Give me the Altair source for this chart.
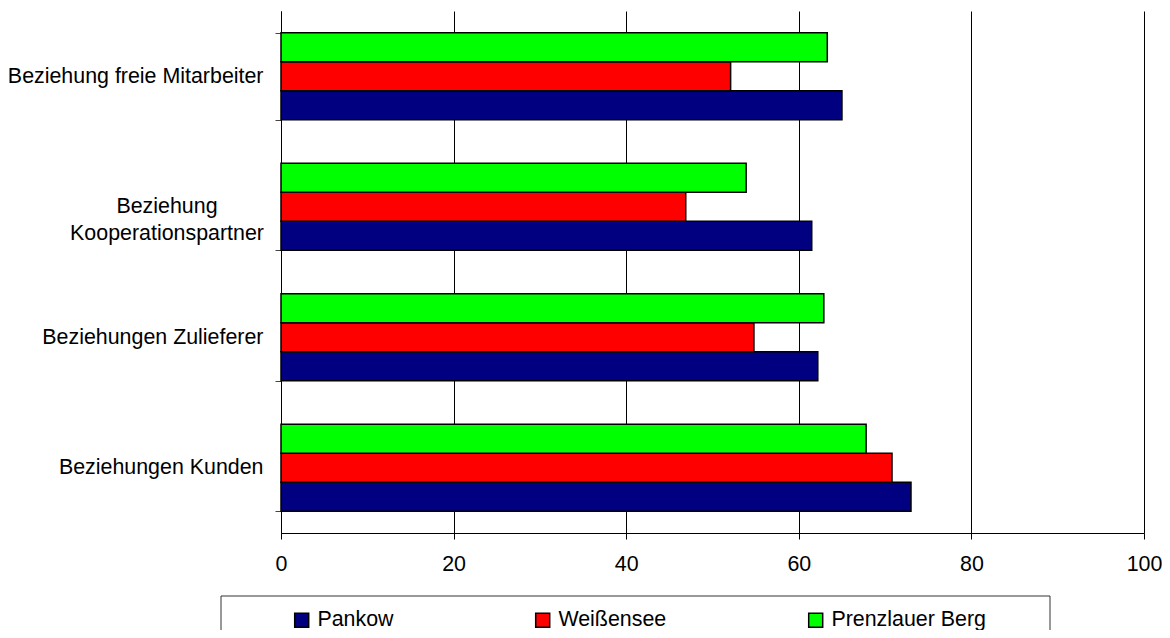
import altair as alt
import pandas as pd

categories = [
    "Beziehung freie Mitarbeiter",
    "Beziehung Kooperationspartner",
    "Beziehungen Zulieferer",
    "Beziehungen Kunden",
]
two_line_category = "Beziehung Kooperationspartner"
two_line_text = "Beziehung\nKooperationspartner"
series = ["Pankow", "Weißensee", "Prenzlauer Berg"]
pankow = [65.0, 61.5, 62.2, 73.0]
weissensee = [52.1, 46.9, 54.8, 70.8]
prenzlauer = [63.3, 53.9, 62.9, 67.8]
colors = ["#000080", "#FF0000", "#00FF00"]
x_ticks = [0, 20, 40, 60, 80, 100]

rows = []
for s, vals in zip(series, [pankow, weissensee, prenzlauer]):
    for c, v in zip(categories, vals):
        rows.append({"Kategorie": c, "Bezirk": s, "Wert": v})
df = pd.DataFrame(rows)

FONT = "Liberation Sans"
FS = 21.4
label_expr = "datum.value == '" + two_line_category + "' ? '' : datum.value"

y_enc = alt.Y(
    "Kategorie:N",
    sort=categories,
    scale=alt.Scale(paddingInner=0.333, paddingOuter=0.1667),
    axis=alt.Axis(
        title=None, tickBand="extent", tickSize=6, tickColor="#444444",
        domainColor="black", labelPadding=12, labelFontSize=FS,
        labelFont=FONT, labelColor="black", labelExpr=label_expr,
        labelLimit=400,
    ),
)

bars = alt.Chart(df).mark_bar(stroke="black", strokeWidth=1.5).encode(
    x=alt.X(
        "Wert:Q",
        scale=alt.Scale(domain=[0, 100], nice=False),
        axis=alt.Axis(
            values=x_ticks, title=None, grid=True, gridColor="black",
            gridWidth=1, gridOpacity=1, domainColor="black", tickColor="black",
            tickSize=6, labelPadding=14, labelFontSize=FS, labelFont=FONT,
            labelColor="black", labelFlush=False,
        ),
    ),
    y=y_enc,
    yOffset=alt.YOffset("Bezirk:N", sort=["Prenzlauer Berg", "Weißensee", "Pankow"]),
    color=alt.Color(
        "Bezirk:N",
        scale=alt.Scale(domain=series, range=colors),
        legend=alt.Legend(
            orient="none", legendX=10, legendY=598, direction="horizontal",
            title=None, symbolType="square", symbolSize=196,
            symbolStrokeColor="black", symbolStrokeWidth=1.5,
            labelFontSize=FS, labelFont=FONT, labelColor="black",
            labelOffset=5, columnPadding=138, padding=0, symbolOpacity=1,
        ),
    ),
)

two_line_label = alt.Chart(
    alt.Data(values=[{"Kategorie": two_line_category, "Text": two_line_text}])
).mark_text(
    align="center", baseline="middle", fontSize=FS, font=FONT,
    color="black", lineBreak="\n", lineHeight=27,
).encode(
    y=alt.Y("Kategorie:N", sort=categories),
    x=alt.value(-114),
    text="Text:N",
)

frame = alt.Chart(alt.Data(values=[{"k": 1}])).mark_rect(
    fill="white", fillOpacity=0, stroke="#333333", strokeWidth=1
).encode(
    x=alt.value(-60), x2=alt.value(769), y=alt.value(585), y2=alt.value(645)
)

chart = alt.layer(frame, bars, two_line_label).properties(
    width=863,
    height=522,
    padding={"left": 273, "top": 3, "right": 18, "bottom": 97},
    autosize=alt.AutoSizeParams(type="none"),
).configure_view(stroke=None)

chart.save("out.html", embed_options={"renderer": "svg", "actions": False})
